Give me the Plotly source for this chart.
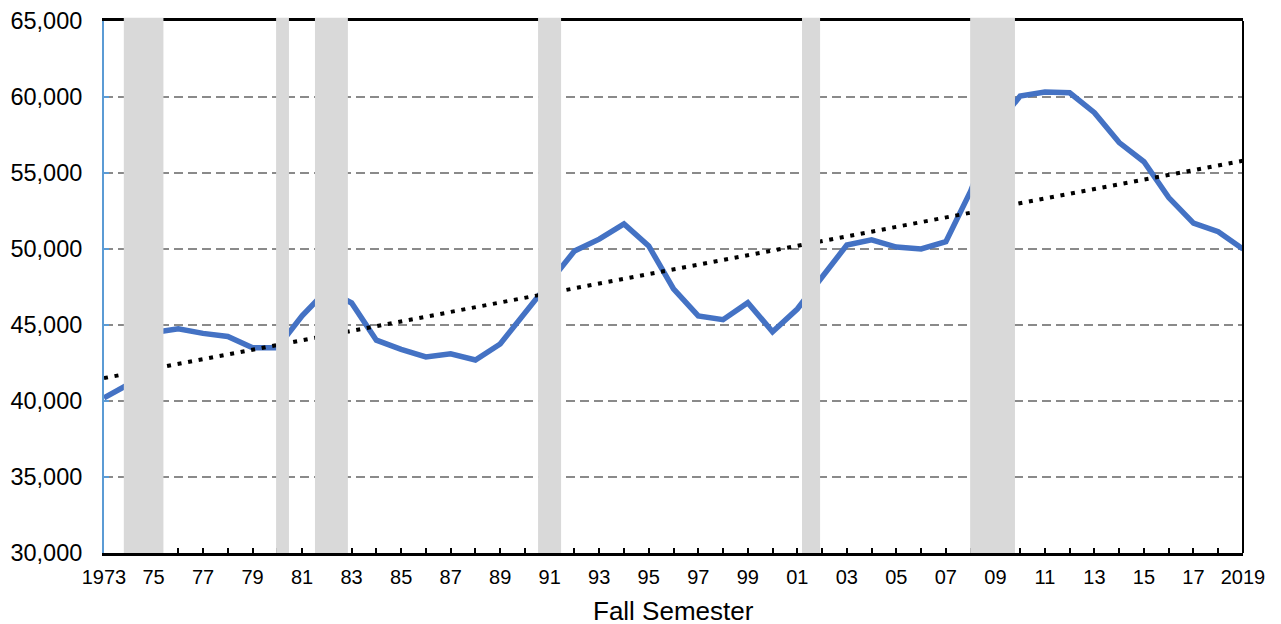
import numpy as np
import plotly.graph_objects as go

# Fall semester enrollment, 1973-2019
years = list(range(1973, 2020))
enrollment = [
    40200, 41100, 44500, 44750, 44450, 44250, 43500, 43500, 45600, 47300,
    46450, 44000, 43400, 42900, 43100, 42700, 43750, 45800, 47800, 49870,
    50650, 51650, 50200, 47370, 45600, 45350, 46470, 44560, 46050, 48200,
    50260, 50600, 50130, 50000, 50480, 53800, 58000, 60070, 60330, 60280,
    58970, 57000, 55740, 53380, 51700, 51140, 50000,
]

# recession periods (shaded)
recession_start = [1973.8, 1979.95, 1981.52, 1990.53, 2001.19, 2007.98]
recession_end = [1975.4, 1980.47, 1982.85, 1991.46, 2001.92, 2009.79]

tick_years = years
tick_text = [
    ("1973" if y == 1973 else "2019" if y == 2019 else f"{y % 100:02d}") if y % 2 == 1 else ""
    for y in years
]

FONT = "Liberation Sans, Arial, sans-serif"
BLUE = "#4472C4"
GRAY_BAND = "#D9D9D9"

# linear trend (OLS) from the series
coeffs = np.polyfit(years, enrollment, 1)
trend = np.polyval(coeffs, years)

fig = go.Figure()

fig.add_trace(go.Scatter(
    x=years, y=enrollment,
    mode="lines",
    line=dict(color=BLUE, width=5.5),
    showlegend=False,
))

fig.add_trace(go.Scatter(
    x=years, y=trend,
    mode="lines",
    line=dict(color="black", width=4, dash="4px,6.7px"),
    showlegend=False,
))

for x0, x1 in zip(recession_start, recession_end):
    fig.add_shape(
        type="rect", xref="x", yref="paper",
        x0=x0, x1=x1, y0=0, y1=1.006,
        fillcolor=GRAY_BAND, line=dict(width=0),
        layer="above",
    )

# right border (black) — left axis line is blue
fig.add_shape(
    type="line", xref="paper", yref="paper",
    x0=1, x1=1, y0=0, y1=1,
    line=dict(color="black", width=2),
    layer="above",
)

# x-axis title as annotation (standoff is ignored without automargin)
fig.add_annotation(
    text="Fall Semester",
    xref="paper", yref="paper", x=0.5, y=0,
    xanchor="center", yanchor="middle", yshift=-58,
    showarrow=False,
    font=dict(size=26, family=FONT, color="black"),
)

fig.update_layout(
    width=1281, height=624,
    margin=dict(l=104, r=38, t=21, b=71),
    paper_bgcolor="white",
    plot_bgcolor="white",
    font=dict(family=FONT, color="black"),
    showlegend=False,
)

fig.update_xaxes(
    range=[1973, 2019], automargin=False,
    tickvals=tick_years, ticktext=tick_text,
    ticks="inside", ticklen=5, tickwidth=1.5, tickcolor="black",
    showline=True, linecolor="black", linewidth=2.5, mirror=True,
    showgrid=False, zeroline=False,
    tickfont=dict(size=20, family=FONT, color="black"),
    ticklabelstandoff=4,
)

fig.update_yaxes(
    range=[30000, 65000], dtick=5000, tickformat=",", automargin=False,
    ticks="inside", ticklen=5, tickwidth=1.5, tickcolor="#5B9BD5",
    showline=True, linecolor="#5B9BD5", linewidth=2, mirror=False,
    showgrid=True, gridcolor="#8A8A8A", gridwidth=1.5, griddash="9px,5px",
    zeroline=False,
    tickfont=dict(size=23.5, family=FONT, color="black"),
    ticklabelstandoff=15, ticklabeloverflow="allow",
)

# drop the default 8px page margin so the figure fills the window exactly
fig.write_html(
    "out.html",
    config={"displayModeBar": False},
    post_script="document.body.style.margin='0';",
)
